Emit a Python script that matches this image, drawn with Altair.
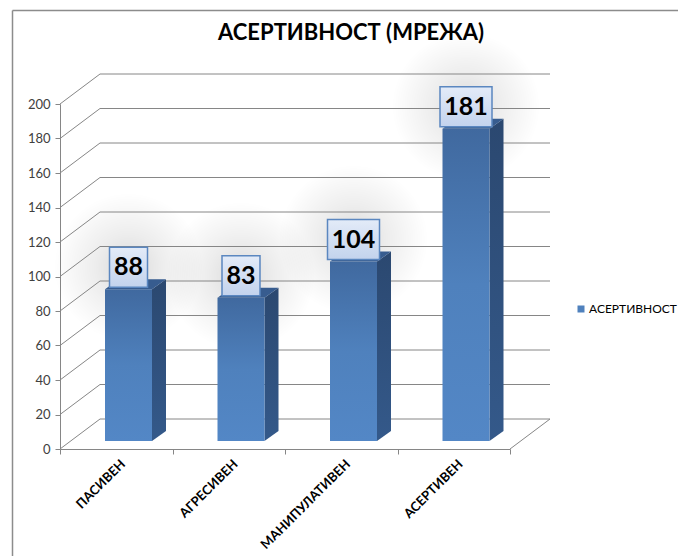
import altair as alt
import pandas as pd

# ---- data ----
categories = ["ПАСИВЕН", "АГРЕСИВЕН", "МАНИПУЛАТИВЕН", "АСЕРТИВЕН"]
values = [88, 83, 104, 181]
series_name = "АСЕРТИВНОСТ"
y_ticks = [0, 20, 40, 60, 80, 100, 120, 140, 160, 180, 200]
title_text = "АСЕРТИВНОСТ (МРЕЖА)"

# ---- geometry (styles, in pixels, converted to data units) ----
W, H = 450, 345
N = len(categories)
YMAX = 200
PX_X = W / N
PX_Y = H / YMAX


def ux(px):
    return px / PX_X


def uy(px):
    return px / PX_Y


WALL_DX, WALL_DY = ux(40), uy(30)
BAR_LEFT, BAR_W = ux(45), ux(47)
BAR_BASE = uy(8)
SIDE_DX, SIDE_DY = ux(14), uy(10)
FONT = "Lato"

front, side, top, boxes = [], [], [], []
for i, (c, v) in enumerate(zip(categories, values)):
    xl = i + BAR_LEFT
    xr = xl + BAR_W
    b = BAR_BASE
    t = v + BAR_BASE
    front.append(dict(cat=c, x=xl, x2=xr, y=b, y2=t, series=series_name))
    side.append(dict(cat=c, x=xr, lo=b, hi=t))
    side.append(dict(cat=c, x=xr + SIDE_DX, lo=b + SIDE_DY, hi=t + SIDE_DY))
    top.append(dict(cat=c, x=xl, lo=t, hi=t))
    top.append(dict(cat=c, x=xl + SIDE_DX, lo=t, hi=t + SIDE_DY))
    top.append(dict(cat=c, x=xr, lo=t, hi=t + SIDE_DY))
    top.append(dict(cat=c, x=xr + SIDE_DX, lo=t + SIDE_DY, hi=t + SIDE_DY))
    cx = (xl + xr) / 2
    half = ux(19 if len(str(v)) < 3 else 26)
    bb = t + uy(2)
    bt = bb + uy(40)
    boxes.append(dict(cat=c, label=str(v), cx=cx, bx=cx - half, bx2=cx + half,
                      by=bb, by2=bt, ym=(bb + bt) / 2))

front_df = pd.DataFrame(front)
side_df = pd.DataFrame(side)
top_df = pd.DataFrame(top)
box_df = pd.DataFrame(boxes)

grid_df = pd.DataFrame({"v": y_ticks})
grid_df["x0"] = 0.0
grid_df["xw"] = WALL_DX
grid_df["xe"] = N + WALL_DX
grid_df["vb"] = grid_df["v"] + WALL_DY

floor_df = pd.DataFrame({"x": [float(N)], "x2": [N + WALL_DX], "y": [0.0], "y2": [WALL_DY]})

lab_df = pd.DataFrame({"cat": categories, "x": [i + 0.5 + ux(7) for i in range(N)],
                       "y": [-uy(13)] * N})

# ---- scales / axes ----
GRAY = "#868686"
xs = alt.Scale(domain=[0, N], nice=False, zero=False)
ys = alt.Scale(domain=[0, YMAX], nice=False, zero=False)
xaxis = alt.Axis(values=list(range(N + 1)), labels=False, grid=False, title=None,
                 tickSize=5, domainColor=GRAY, tickColor=GRAY)
yaxis = alt.Axis(values=y_ticks, grid=False, title=None, tickSize=5, domainColor=GRAY,
                 tickColor=GRAY, labelFont=FONT, labelFontSize=13, labelColor="#404040",
                 labelPadding=5)


def X(f):
    return alt.X(f, type="quantitative", scale=xs, axis=xaxis)


def Y(f):
    return alt.Y(f, type="quantitative", scale=ys, axis=yaxis)


# glow behind labels
glow = alt.Chart(box_df).mark_circle(
    size=22000, opacity=1,
    fill=alt.RadialGradient(gradient="radial", x1=0.5, y1=0.5, r1=0, x2=0.5, y2=0.5, r2=0.5,
                            stops=[alt.GradientStop(color="rgba(0,0,0,0.15)", offset=0),
                                   alt.GradientStop(color="rgba(0,0,0,0.07)", offset=0.45),
                                   alt.GradientStop(color="rgba(0,0,0,0)", offset=1)]),
    stroke=None,
).encode(x=X("cx"), y=Y("ym"))

back_grid = alt.Chart(grid_df).mark_rule(color=GRAY, strokeWidth=1).encode(
    x=X("xw"), x2="xe", y=Y("vb"), y2="vb")
left_grid = alt.Chart(grid_df).mark_rule(color=GRAY, strokeWidth=1).encode(
    x=X("x0"), x2="xw", y=Y("v"), y2="vb")
floor_rule = alt.Chart(floor_df).mark_rule(color=GRAY, strokeWidth=1).encode(
    x=X("x"), x2="x2", y=Y("y"), y2="y2")

side_area = alt.Chart(side_df).mark_area(
    orient="vertical",
    color=alt.LinearGradient(gradient="linear", x1=0, y1=0, x2=0, y2=1,
                             stops=[alt.GradientStop(color="#2b4870", offset=0),
                                    alt.GradientStop(color="#34598a", offset=1)])
).encode(x=X("x"), y=Y("hi"), y2="lo", detail="cat:N")

top_area = alt.Chart(top_df).mark_area(orient="vertical", color="#375c8f").encode(
    x=X("x"), y=Y("hi"), y2="lo", detail="cat:N")

front_bar = alt.Chart(front_df).mark_rect(
    color=alt.LinearGradient(gradient="linear", x1=0, y1=0, x2=0, y2=1,
                             stops=[alt.GradientStop(color="#40699f", offset=0),
                                    alt.GradientStop(color="#4f81bd", offset=0.5),
                                    alt.GradientStop(color="#5387c6", offset=1)])
).encode(x=X("x"), x2="x2", y=Y("y"), y2="y2")

legend_layer = alt.Chart(front_df).mark_square(opacity=0).encode(
    x=X("x"), y=Y("y"),
    color=alt.Color("series:N", scale=alt.Scale(domain=[series_name], range=["#4f81bd"]),
                    legend=alt.Legend(orient="none", legendX=515, legendY=199, title=None,
                                      symbolType="square", symbolSize=49, symbolOpacity=1,
                                      symbolStrokeWidth=0, labelFont=FONT, labelFontSize=12,
                                      labelColor="#000000", padding=0, labelOffset=2)))

box_rect = alt.Chart(box_df).mark_rect(
    stroke="#5b87c0", strokeWidth=1.5,
    fill=alt.LinearGradient(gradient="linear", x1=0, y1=0, x2=0, y2=1,
                            stops=[alt.GradientStop(color="#e3ebf8", offset=0),
                                   alt.GradientStop(color="#c3d3ed", offset=1)])
).encode(x=X("bx"), x2="bx2", y=Y("by"), y2="by2")

box_text = alt.Chart(box_df).mark_text(
    font=FONT, fontSize=25, fontWeight="bold", color="#000000", baseline="middle", align="center"
).encode(x=X("cx"), y=Y("ym"), text="label:N")

cat_text = alt.Chart(lab_df).mark_text(
    font=FONT, fontSize=13, fontWeight="bold", color="#000000", angle=315,
    align="right", baseline="middle"
).encode(x=X("x"), y=Y("y"), text="cat:N")

title_df = pd.DataFrame({"t": [title_text]})
title_mark = alt.Chart(title_df).mark_text(
    font=FONT, fontSize=22, fontWeight="bold", color="#000000", align="center", baseline="middle"
).encode(text="t:N", x=alt.value(291), y=alt.value(-71))

frame_df = pd.DataFrame({"k": [0]})
frame_left = alt.Chart(frame_df).mark_rule(color="#8c8c8c", strokeWidth=1.5).encode(
    x=alt.value(-47.5), y=alt.value(-93.5), y2=alt.value(460))
frame_top = alt.Chart(frame_df).mark_rule(color="#8c8c8c", strokeWidth=1.5).encode(
    x=alt.value(-47.5), x2=alt.value(640), y=alt.value(-93.5))

chart = alt.layer(
    glow, back_grid, left_grid, floor_rule, side_area, top_area, front_bar, legend_layer,
    box_rect, box_text, cat_text, title_mark, frame_left, frame_top
).properties(
    width=W, height=H,
    autosize=alt.AutoSizeParams(type="none"),
    padding={"left": 60, "top": 104, "right": 168, "bottom": 107},
    background="white",
).configure_view(stroke=None)

chart.save("out.html", embed_options={"renderer": "svg", "actions": False})
